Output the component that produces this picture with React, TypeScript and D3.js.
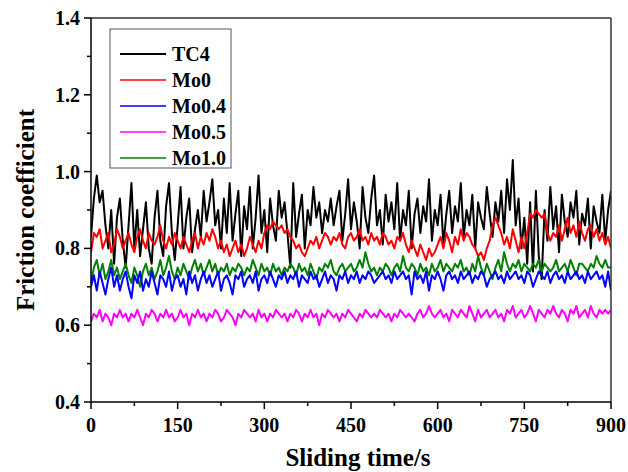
import React from "react";
import * as d3 from "d3";

const seriesNames = ["TC4", "Mo0", "Mo0.4", "Mo0.5", "Mo1.0"];
const seriesColors = ["#000000", "#ff0000", "#0000ff", "#ff00ff", "#008000"];
const xTicks = [0, 150, 300, 450, 600, 750, 900];
const yTicks = [0.4, 0.6, 0.8, 1.0, 1.2, 1.4];
const timeStep = 5;

const tc4 = [
  0.83, 0.93, 0.99, 0.92, 0.95, 0.86, 0.80, 0.90, 0.76, 0.88,
  0.93, 0.82, 0.75, 0.86, 0.97, 0.80, 0.90, 0.78, 0.85, 0.92,
  0.80, 0.76, 0.88, 0.95, 0.82, 0.78, 0.91, 0.97, 0.84, 0.77,
  0.86, 0.96, 0.80, 0.88, 0.93, 0.79, 0.85, 0.90, 0.83, 0.95,
  0.87, 0.92, 0.98, 0.86, 0.90, 0.80, 0.93, 0.84, 0.97, 0.82,
  0.89, 0.95, 0.78, 0.91, 0.85, 0.96, 0.80, 0.88, 0.99, 0.84,
  0.90, 0.79, 0.93, 0.86, 0.82, 0.95, 0.88, 0.92, 0.84, 0.75,
  0.97, 0.83, 0.89, 0.94, 0.80, 0.90, 0.86, 0.96, 0.88, 0.92,
  0.84, 0.90, 0.87, 0.93, 0.86, 0.91, 0.95, 0.82, 0.89, 0.98,
  0.85, 0.92, 0.87, 0.80, 0.96, 0.88, 0.84, 0.93, 0.99, 0.86,
  0.90, 0.81, 0.94, 0.87, 0.92, 0.85, 0.97, 0.82, 0.90, 0.86,
  0.95, 0.80, 0.89, 0.93, 0.84, 0.91, 0.87, 0.98, 0.82, 0.90,
  0.86, 0.94, 0.81, 0.89, 0.95, 0.84, 0.91, 0.87, 0.97, 0.83,
  0.90, 0.86, 0.94, 0.80, 0.92, 0.88, 0.85, 0.96, 0.89, 0.83,
  0.92, 0.87, 0.95, 0.84, 0.98, 0.90, 1.03, 0.86, 0.93, 0.80,
  0.88, 0.76, 0.92, 0.74, 0.95, 0.78, 0.72, 0.90, 0.82, 0.96,
  0.85, 0.91, 0.79, 0.94, 0.87, 0.83, 0.92, 0.88, 0.95, 0.81,
  0.89, 0.86, 0.93, 0.80, 0.91, 0.87, 0.84, 0.94, 0.82, 0.90,
  0.95,
];

const mo0 = [
  0.79, 0.84, 0.83, 0.85, 0.80, 0.82, 0.84, 0.79, 0.81, 0.85,
  0.83, 0.80, 0.82, 0.84, 0.81, 0.79, 0.83, 0.85, 0.82, 0.80,
  0.84, 0.82, 0.81, 0.83, 0.86, 0.82, 0.80, 0.83, 0.81, 0.84,
  0.82, 0.80, 0.83, 0.81, 0.79, 0.82, 0.84, 0.80, 0.83, 0.81,
  0.84, 0.82, 0.85, 0.83, 0.80, 0.82, 0.79, 0.81, 0.78, 0.80,
  0.82, 0.79, 0.81, 0.78, 0.80, 0.83, 0.81, 0.79, 0.82, 0.80,
  0.84, 0.86, 0.85, 0.87, 0.86, 0.85, 0.86, 0.84, 0.85, 0.83,
  0.82, 0.80, 0.81, 0.79, 0.78, 0.80, 0.82, 0.81, 0.83, 0.80,
  0.82, 0.84, 0.83, 0.81, 0.83, 0.82, 0.84, 0.81, 0.80, 0.83,
  0.84, 0.82, 0.83, 0.85, 0.82, 0.83, 0.81, 0.84, 0.82, 0.83,
  0.81, 0.84, 0.83, 0.81, 0.82, 0.80, 0.83, 0.82, 0.84, 0.81,
  0.79, 0.82, 0.80, 0.78, 0.81, 0.79, 0.77, 0.80, 0.78, 0.79,
  0.81, 0.83, 0.80, 0.84, 0.82, 0.79, 0.83, 0.81, 0.85, 0.82,
  0.84, 0.83, 0.81, 0.80, 0.78, 0.79, 0.77, 0.80, 0.82, 0.86,
  0.88, 0.86, 0.84, 0.81, 0.83, 0.80, 0.85, 0.82, 0.79, 0.83,
  0.80, 0.84, 0.89, 0.88, 0.90, 0.89, 0.88, 0.89, 0.84, 0.82,
  0.84, 0.83, 0.86, 0.82, 0.85, 0.88, 0.84, 0.86, 0.83, 0.87,
  0.84, 0.82, 0.85, 0.86, 0.83, 0.85, 0.82, 0.84, 0.81, 0.83,
  0.80,
];

const mo04 = [
  0.70, 0.73, 0.69, 0.74, 0.71, 0.68, 0.72, 0.75, 0.70, 0.73,
  0.69, 0.72, 0.74, 0.70, 0.67, 0.73, 0.71, 0.74, 0.69, 0.72,
  0.70, 0.74, 0.71, 0.68, 0.73, 0.72, 0.70, 0.74, 0.69, 0.72,
  0.73, 0.70, 0.72, 0.68, 0.74, 0.71, 0.73, 0.69, 0.72, 0.74,
  0.71, 0.73, 0.70, 0.72, 0.74, 0.69, 0.72, 0.73, 0.71, 0.68,
  0.73, 0.72, 0.74, 0.70, 0.72, 0.73, 0.71, 0.74, 0.69, 0.72,
  0.73, 0.71, 0.74, 0.72, 0.70, 0.73, 0.72, 0.74, 0.71, 0.73,
  0.72, 0.74, 0.70, 0.73, 0.72, 0.71, 0.74, 0.72, 0.73, 0.70,
  0.72, 0.74, 0.71, 0.73, 0.72, 0.69, 0.73, 0.72, 0.74, 0.71,
  0.73, 0.72, 0.74, 0.71, 0.73, 0.72, 0.74, 0.73, 0.71, 0.72,
  0.73, 0.74, 0.72, 0.73, 0.71, 0.74, 0.72, 0.73, 0.74, 0.72,
  0.73, 0.68, 0.74, 0.72, 0.73, 0.71, 0.74, 0.69, 0.73, 0.72,
  0.74, 0.72, 0.69, 0.73, 0.74, 0.72, 0.73, 0.71, 0.74, 0.72,
  0.73, 0.74, 0.71, 0.73, 0.72, 0.74, 0.73, 0.70, 0.72, 0.73,
  0.74, 0.72, 0.73, 0.71, 0.74, 0.72, 0.73, 0.74, 0.72, 0.73,
  0.71, 0.74, 0.73, 0.70, 0.72, 0.74, 0.73, 0.72, 0.74, 0.71,
  0.73, 0.74, 0.72, 0.73, 0.71, 0.74, 0.72, 0.73, 0.74, 0.72,
  0.73, 0.71, 0.74, 0.72, 0.73, 0.74, 0.72, 0.73, 0.70, 0.74,
  0.69,
];

const mo05 = [
  0.61, 0.63, 0.62, 0.64, 0.61, 0.63, 0.62, 0.60, 0.63, 0.62,
  0.64, 0.62, 0.63, 0.61, 0.63, 0.62, 0.64, 0.62, 0.60, 0.63,
  0.62, 0.64, 0.63, 0.61, 0.63, 0.62, 0.64, 0.62, 0.63, 0.61,
  0.62, 0.64, 0.62, 0.63, 0.60, 0.63, 0.62, 0.64, 0.62, 0.63,
  0.61, 0.63, 0.62, 0.64, 0.63, 0.61, 0.62, 0.64, 0.63, 0.62,
  0.60, 0.63, 0.62, 0.64, 0.63, 0.62, 0.63, 0.61, 0.64, 0.62,
  0.63, 0.61, 0.63, 0.62, 0.64, 0.63, 0.62, 0.63, 0.61, 0.63,
  0.62, 0.64, 0.63, 0.61, 0.63, 0.62, 0.64, 0.62, 0.63, 0.60,
  0.63, 0.62, 0.64, 0.63, 0.62, 0.63, 0.61, 0.63, 0.62, 0.64,
  0.63, 0.62, 0.61, 0.63, 0.62, 0.64, 0.63, 0.62, 0.63, 0.62,
  0.64, 0.63, 0.62, 0.63, 0.61, 0.63, 0.62, 0.64, 0.63, 0.62,
  0.63, 0.62, 0.61, 0.63, 0.64, 0.62, 0.63, 0.65, 0.63, 0.62,
  0.63, 0.64, 0.62, 0.63, 0.61, 0.64, 0.63, 0.62, 0.64, 0.63,
  0.62, 0.65, 0.63, 0.61, 0.64, 0.62, 0.63, 0.64, 0.62, 0.63,
  0.64, 0.62, 0.63, 0.61, 0.64, 0.63, 0.65, 0.62, 0.63, 0.64,
  0.62, 0.63, 0.65, 0.63, 0.61, 0.64, 0.63, 0.62, 0.64, 0.63,
  0.65, 0.63, 0.62, 0.64, 0.63, 0.61, 0.64, 0.63, 0.65, 0.62,
  0.63, 0.64, 0.62, 0.65, 0.63, 0.62, 0.64, 0.63, 0.64, 0.63,
  0.64,
];

const mo10 = [
  0.71, 0.75, 0.77, 0.73, 0.76, 0.72, 0.74, 0.77, 0.73, 0.75,
  0.72, 0.74, 0.76, 0.73, 0.71, 0.75, 0.73, 0.70, 0.74, 0.76,
  0.73, 0.75, 0.72, 0.74, 0.77, 0.73, 0.75, 0.78, 0.74, 0.72,
  0.75, 0.73, 0.76, 0.74, 0.72, 0.75, 0.77, 0.74, 0.76, 0.73,
  0.75, 0.77, 0.74, 0.76, 0.73, 0.75, 0.74, 0.76, 0.73, 0.75,
  0.74, 0.76, 0.75, 0.73, 0.75, 0.74, 0.77, 0.75, 0.73, 0.76,
  0.74, 0.75, 0.73, 0.76, 0.74, 0.75, 0.73, 0.75, 0.74, 0.76,
  0.75, 0.73, 0.76, 0.74, 0.75, 0.73, 0.76, 0.74, 0.72, 0.75,
  0.74, 0.76, 0.75, 0.77, 0.74, 0.73, 0.75, 0.76, 0.74, 0.75,
  0.76, 0.74, 0.75, 0.77, 0.75, 0.79, 0.76, 0.74, 0.75, 0.73,
  0.75, 0.74, 0.76, 0.75, 0.73, 0.75, 0.76, 0.74, 0.78, 0.75,
  0.74, 0.76, 0.75, 0.73, 0.76, 0.74, 0.75, 0.73, 0.76, 0.74,
  0.75, 0.77, 0.74, 0.76, 0.75, 0.74, 0.76, 0.75, 0.77, 0.74,
  0.75, 0.73, 0.76, 0.74, 0.78, 0.75, 0.73, 0.76, 0.74, 0.72,
  0.75, 0.77, 0.74, 0.79, 0.76, 0.74, 0.76, 0.75, 0.77, 0.74,
  0.76, 0.75, 0.74, 0.76, 0.75, 0.77, 0.74, 0.76, 0.75, 0.74,
  0.75, 0.77, 0.74, 0.75, 0.76, 0.74, 0.77, 0.75, 0.73, 0.76,
  0.76, 0.75, 0.74, 0.76, 0.75, 0.78, 0.76, 0.75, 0.77, 0.75,
  0.75,
];

// drawing order: back to front as in the reference
const seriesData = [tc4, mo0, mo04, mo05, mo10];
const drawOrder = [0, 1, 4, 2, 3];

const W = 628;
const H = 472;
const M = { left: 91, right: 611, top: 18, bottom: 402 };
const FONT = "'Liberation Serif', 'Times New Roman', serif";

export default function App() {
  const x = d3.scaleLinear().domain([0, 900]).range([M.left, M.right]);
  const y = d3.scaleLinear().domain([0.4, 1.4]).range([M.bottom, M.top]);
  const xMinor = d3.range(75, 900, 150);
  const yMinor = d3.range(0.5, 1.4, 0.2);

  const line = d3
    .line<number>()
    .x((_, i) => x(i * timeStep))
    .y((v) => y(v));

  return (
    <svg
      width={W}
      height={H}
      style={{ position: "absolute", left: 0, top: 0, background: "#fff" }}
      fontFamily={FONT}
    >
      <defs>
        <clipPath id="plot">
          <rect x={M.left} y={M.top} width={M.right - M.left} height={M.bottom - M.top} />
        </clipPath>
      </defs>
      <rect x={0} y={0} width={W} height={H} fill="#fff" />

      <g clipPath="url(#plot)">
        {drawOrder.map((k) => (
          <path
            key={seriesNames[k]}
            d={line(seriesData[k]) || ""}
            fill="none"
            stroke={seriesColors[k]}
            strokeWidth={2}
            strokeLinejoin="round"
          />
        ))}
      </g>

      {/* frame */}
      <line x1={M.left} x2={M.right} y1={M.top} y2={M.top} stroke="#333" strokeWidth={1.5} />
      <line x1={M.right} x2={M.right} y1={M.top} y2={M.bottom} stroke="#333" strokeWidth={1.5} />
      <line x1={M.left} x2={M.left} y1={M.top} y2={M.bottom} stroke="#000" strokeWidth={1.5} />
      <line x1={M.left} x2={M.right} y1={M.bottom} y2={M.bottom} stroke="#000" strokeWidth={1.5} />

      {/* y ticks */}
      {yTicks.map((t) => (
        <g key={"y" + t}>
          <line x1={M.left - 7} x2={M.left} y1={y(t)} y2={y(t)} stroke="#000" strokeWidth={1.5} />
          <text
            x={M.left - 11}
            y={y(t)}
            textAnchor="end"
            dominantBaseline="central"
            fontSize={20}
            fontWeight="bold"
          >
            {t.toFixed(1)}
          </text>
        </g>
      ))}
      {yMinor.map((t) => (
        <line key={"ym" + t} x1={M.left - 4} x2={M.left} y1={y(t)} y2={y(t)} stroke="#000" strokeWidth={1.5} />
      ))}

      {/* x ticks */}
      {xTicks.map((t) => (
        <g key={"x" + t}>
          <line x1={x(t)} x2={x(t)} y1={M.bottom} y2={M.bottom + 7} stroke="#000" strokeWidth={1.5} />
          <text x={x(t)} y={432} textAnchor="middle" fontSize={20} fontWeight="bold">
            {t}
          </text>
        </g>
      ))}
      {xMinor.map((t) => (
        <line key={"xm" + t} x1={x(t)} x2={x(t)} y1={M.bottom} y2={M.bottom + 4} stroke="#000" strokeWidth={1.5} />
      ))}

      {/* axis titles */}
      <text x={358} y={466} textAnchor="middle" fontSize={25} fontWeight="bold">
        Sliding time/s
      </text>
      <text
        transform={`translate(34, ${(M.top + M.bottom) / 2}) rotate(-90)`}
        textAnchor="middle"
        fontSize={25}
        fontWeight="bold"
      >
        Friction coefficient
      </text>

      {/* legend */}
      <rect x={110} y={29} width={121} height={139} fill="#fff" stroke="#555" strokeWidth={1} />
      {seriesNames.map((n, i) => (
        <g key={"lg" + n}>
          <line
            x1={120}
            x2={166}
            y1={54 + i * 26}
            y2={54 + i * 26}
            stroke={seriesColors[i]}
            strokeWidth={i === 0 ? 2 : 1.5}
          />
          <text x={172} y={54 + i * 26} dominantBaseline="central" fontSize={20} fontWeight="bold">
            {n}
          </text>
        </g>
      ))}
    </svg>
  );
}
